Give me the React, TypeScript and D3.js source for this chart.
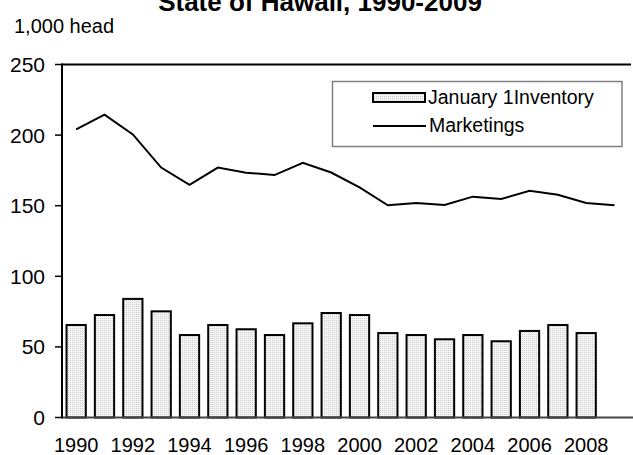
import React from "react";
import * as d3 from "d3";

const years = d3.range(1990, 2010).map(String);
const inventory: (number | null)[] = [65.5, 72.6, 84, 75.2, 58.4, 65.5, 62.5, 58.4, 66.7, 74, 72.6, 59.8, 58.4, 55.4, 58.4, 54, 61.3, 65.5, 59.8, null];
const marketings = [204, 214.5, 200.5, 177, 164.7, 177, 173.4, 171.7, 180.4, 173.5, 163, 150.3, 151.9, 150.5, 156.4, 154.7, 160.6, 157.8, 151.9, 150.3];
const yTicks = [0, 50, 100, 150, 200, 250];
const xLabelYears = ["1990", "1992", "1994", "1996", "1998", "2000", "2002", "2004", "2006", "2008"];

const title = "State of Hawaii, 1990-2009";
const unitLabel = "1,000 head";
const legendBar = "January 1Inventory";
const legendLine = "Marketings";

export default function App() {
  const W = 633, H = 455;
  const left = 62, right = 628.7, top = 64.5, bottom = 417.5;
  const x = d3.scaleBand<string>().domain(years).range([left, right]).paddingInner(0).paddingOuter(0);
  const y = d3.scaleLinear().domain([0, 250]).range([bottom, top]);
  const bw = x.bandwidth() * 0.68;
  const line = d3.line<number>().x((_, i) => (x(years[i]) as number) + x.bandwidth() / 2).y((d) => y(d));
  const font = "'Liberation Sans', Arial, sans-serif";

  return (
    <svg width={W} height={H} style={{ position: "absolute", left: 0, top: 0, background: "#fff" }} fontFamily={font}>
      <defs>
        <pattern id="dots" width="2" height="2" patternUnits="userSpaceOnUse">
          <rect width="2" height="2" fill="#f4f4f4" />
          <rect width="1" height="1" fill="#cfcfcf" />
        </pattern>
      </defs>
      <rect width={W} height={H} fill="#fff" />
      <text x={320} y={11} textAnchor="middle" fontWeight="bold" fontSize={26} fill="#000">{title}</text>
      <text x={14} y={33} fontSize={20} fill="#000">{unitLabel}</text>

      {inventory.map((v, i) =>
        v == null ? null : (
          <rect key={i}
            x={(x(years[i]) as number) + (x.bandwidth() - bw) / 2}
            y={y(v)} width={bw} height={y(0) - y(v)}
            fill="url(#dots)" stroke="#000" strokeWidth={2} />
        )
      )}

      <line x1={left} x2={631} y1={top} y2={top} stroke="#000" strokeWidth={2} />
      <line x1={left} x2={633} y1={bottom} y2={bottom} stroke="#444" strokeWidth={2} />
      <line x1={left} x2={left} y1={top - 1} y2={bottom + 1} stroke="#000" strokeWidth={2} />
      {yTicks.map((t) => (
        <g key={t}>
          <line x1={left - 7} x2={left} y1={y(t)} y2={y(t)} stroke="#000" strokeWidth={1.5} />
          <text x={45} y={y(t)} dy="0.36em" textAnchor="end" fontSize={21} fill="#000">{t}</text>
        </g>
      ))}
      {xLabelYears.map((yr) => (
        <text key={yr} x={(x(yr) as number) + x.bandwidth() / 2} y={452} textAnchor="middle" fontSize={20} fill="#000">{yr}</text>
      ))}

      <path d={line(marketings) || ""} fill="none" stroke="#000" strokeWidth={2} strokeLinejoin="miter" />

      <rect x={332.5} y={81.5} width={289.5} height={65} fill="#fff" stroke="#808080" strokeWidth={1.5} />
      <rect x={373} y={93} width={52} height={9} fill="url(#dots)" stroke="#000" strokeWidth={2} />
      <text x={428} y={104} fontSize={19.5} fill="#000">{legendBar}</text>
      <line x1={373} x2={426} y1={126} y2={126} stroke="#000" strokeWidth={2} />
      <text x={429} y={132} fontSize={19.5} fill="#000">{legendLine}</text>
    </svg>
  );
}
